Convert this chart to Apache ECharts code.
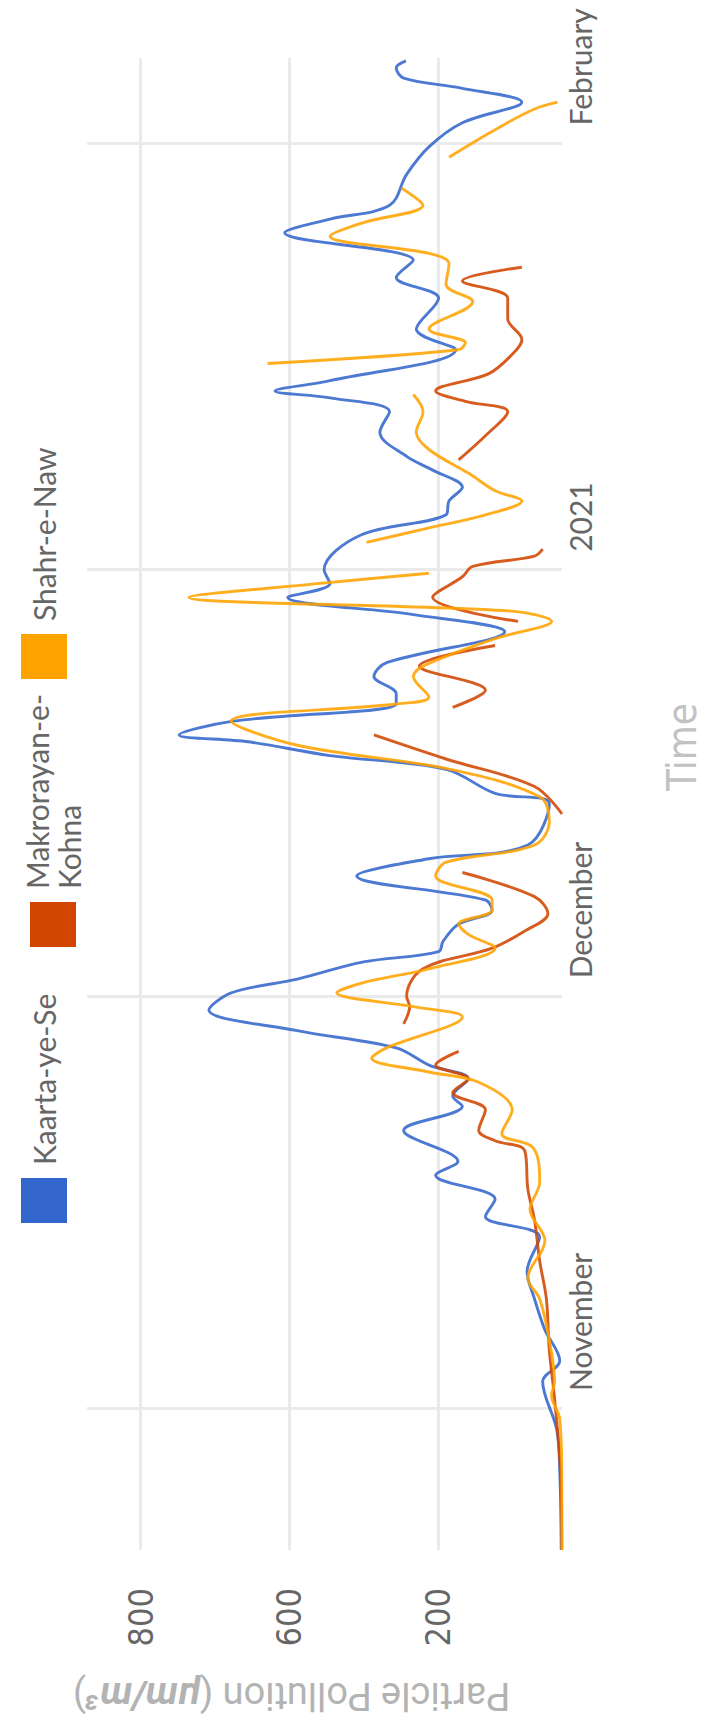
<!DOCTYPE html>
<html>
<head>
<meta charset="utf-8">
<script src="https://cdn.jsdelivr.net/npm/echarts@6/dist/echarts.min.js"></script>
<style>
  html, body { margin: 0; padding: 0; background: #ffffff; }
  #page { position: relative; width: 707px; height: 1727px; overflow: hidden; background: #ffffff; }
  #chart { position: absolute; left: 0; top: 0; width: 1727px; height: 707px;
           transform-origin: 0 0; transform: translate(0px, 1727px) rotate(-90deg); }
</style>
</head>
<body>
<div id="page"><div id="chart"></div></div>
<script>
// ---------- data ----------
const seriesNames = ['Kaarta-ye-Se', 'Makrorayan-e-Kohna', 'Shahr-e-Naw'];

const kaartaDates = ['2020-10-21 18:00','2020-10-27 12:00','2020-10-30 12:00','2020-11-03 00:00','2020-11-04 12:00','2020-11-06 18:00','2020-11-09 00:00','2020-11-11 00:00','2020-11-13 12:00','2020-11-15 00:00','2020-11-16 06:00','2020-11-18 00:00','2020-11-19 00:00','2020-11-21 06:00','2020-11-23 00:00','2020-11-23 18:00','2020-11-25 00:00','2020-11-26 00:00','2020-11-27 06:00','2020-11-28 12:00','2020-11-30 00:00','2020-12-01 06:00','2020-12-02 06:00','2020-12-03 12:00','2020-12-04 06:00','2020-12-05 00:00','2020-12-06 06:00','2020-12-07 06:00','2020-12-08 00:00','2020-12-09 18:00','2020-12-11 00:00','2020-12-12 00:00','2020-12-15 00:00','2020-12-15 18:00','2020-12-17 12:00','2020-12-18 12:00','2020-12-19 12:00','2020-12-20 00:00','2020-12-21 00:00','2020-12-22 06:00','2020-12-23 00:00','2020-12-24 06:00','2020-12-25 06:00','2020-12-27 12:00','2020-12-28 18:00','2020-12-30 00:00','2020-12-31 00:00','2021-01-01 00:00','2021-01-03 12:00','2021-01-05 00:00','2021-01-06 00:00','2021-01-07 00:00','2021-01-08 06:00','2021-01-09 06:00','2021-01-11 00:00','2021-01-12 12:00','2021-01-13 12:00','2021-01-14 00:00','2021-01-14 18:00','2021-01-17 00:00','2021-01-18 12:00','2021-01-20 18:00','2021-01-22 06:00','2021-01-23 12:00','2021-01-25 12:00','2021-01-26 12:00','2021-01-27 12:00','2021-01-29 18:00','2021-01-31 18:00','2021-02-02 12:00','2021-02-04 00:00','2021-02-05 00:00','2021-02-05 18:00','2021-02-06 12:00','2021-02-07 00:00'];
const kaartaValues = [234,236,240,259,236,256,270,280,263,336,323,403,373,446,367,380,359,412,456,589,708,678,589,500,399,393,372,327,336,509,412,279,250,323,389,545,655,748,675,456,456,486,469,310,433,602,545,553,505,389,385,367,407,442,478,465,545,619,545,376,429,399,456,433,606,545,465,442,412,367,287,367,446,456,443];

const makroDates = ['2020-10-21 18:00','2020-10-27 12:00','2020-11-01 18:00','2020-11-05 06:00','2020-11-09 00:00','2020-11-11 18:00','2020-11-14 18:00','2020-11-17 00:00','2020-11-19 18:00','2020-11-20 12:00','2020-11-21 06:00','2020-11-22 18:00','2020-11-24 00:00','2020-11-25 00:00','2020-11-26 00:00','2020-11-27 00:00','2020-11-28 00:00','2020-11-29 00:00','2020-11-30 06:00','2020-12-01 00:00','2020-12-03 00:00','2020-12-04 12:00','2020-12-05 18:00','2020-12-07 00:00','2020-12-08 06:00','2020-12-10 00:00','2020-12-12 00:00','2020-12-14 06:00','2020-12-16 06:00','2020-12-18 06:00','2020-12-20 00:00','2020-12-21 00:00','2020-12-22 00:00','2020-12-23 06:00','2020-12-25 00:00','2020-12-26 12:00','2020-12-27 12:00','2020-12-28 06:00','2020-12-30 00:00','2020-12-31 12:00','2021-01-01 06:00','2021-01-02 00:00','2021-01-02 12:00','2021-01-05 00:00','2021-01-09 00:00','2021-01-10 18:00','2021-01-12 12:00','2021-01-13 06:00','2021-01-14 00:00','2021-01-15 06:00','2021-01-16 12:00','2021-01-17 18:00','2021-01-19 06:00','2021-01-20 18:00','2021-01-22 00:00','2021-01-23 00:00'];
const makroValues = [233,235,243,250,254,263,270,279,283,323,345,336,380,359,403,372,null,446,438,442,420,327,283,252,270,367,null,233,270,389,486,null,380,336,425,323,null,292,407,367,353,270,259,null,372,336,306,363,403,332,303,287,306,306,367,287];

const shahrDates = ['2020-10-21 18:00','2020-10-26 06:00','2020-10-31 06:00','2020-11-02 00:00','2020-11-03 00:00','2020-11-06 00:00','2020-11-09 00:00','2020-11-10 12:00','2020-11-13 06:00','2020-11-15 12:00','2020-11-17 12:00','2020-11-20 00:00','2020-11-21 00:00','2020-11-22 18:00','2020-11-24 18:00','2020-11-25 12:00','2020-11-26 12:00','2020-11-27 06:00','2020-11-29 12:00','2020-11-30 06:00','2020-12-01 06:00','2020-12-02 00:00','2020-12-03 00:00','2020-12-04 12:00','2020-12-05 12:00','2020-12-06 06:00','2020-12-07 06:00','2020-12-08 00:00','2020-12-09 18:00','2020-12-10 18:00','2020-12-12 00:00','2020-12-13 18:00','2020-12-15 12:00','2020-12-17 12:00','2020-12-19 06:00','2020-12-21 00:00','2020-12-22 06:00','2020-12-22 18:00','2020-12-24 06:00','2020-12-25 00:00','2020-12-27 00:00','2020-12-28 06:00','2020-12-29 00:00','2020-12-30 00:00','2020-12-31 00:00','2020-12-31 18:00','2021-01-02 06:00','2021-01-03 00:00','2021-01-04 00:00','2021-01-05 00:00','2021-01-06 00:00','2021-01-06 18:00','2021-01-08 00:00','2021-01-09 18:00','2021-01-11 00:00','2021-01-12 12:00','2021-01-13 18:00','2021-01-15 00:00','2021-01-16 00:00','2021-01-17 00:00','2021-01-17 12:00','2021-01-18 12:00','2021-01-20 12:00','2021-01-21 18:00','2021-01-23 06:00','2021-01-24 00:00','2021-01-25 06:00','2021-01-26 06:00','2021-01-27 12:00','2021-01-28 18:00','2021-01-30 00:00','2021-01-31 00:00','2021-02-02 00:00','2021-02-03 12:00','2021-02-04 00:00'];
const shahrValues = [233,233,236,247,243,250,263,279,256,276,263,272,314,300,345,412,489,469,367,433,536,500,412,323,359,372,327,327,403,389,270,250,263,383,589,678,456,412,433,420,323,247,300,735,562,412,null,496,416,336,287,323,358,412,429,420,433,null,629,372,363,412,353,389,385,412,545,500,420,449,null,385,323,270,239];

const timeTickDates = ['2020-11-01 00:00','2020-12-01 00:00','2021-01-01 00:00','2021-02-01 00:00'];
const timeTickLabels = ['November','December','2021','February'];
const valueTickValues = [400, 600, 800];
const valueTickLabels = ['200', '600', '800'];

const colors = ['#3366CC', '#D24500', '#FFA300'];

// ---------- build ----------
function ts(s) {
  const m = s.match(/^(\d{4})-(\d{2})-(\d{2})(?: (\d{2}):(\d{2}))?$/);
  return new Date(+m[1], +m[2] - 1, +m[3], m[4] ? +m[4] : 0, m[5] ? +m[5] : 0).getTime();
}
const pair = (d, v) => d.map((x, i) => [ts(x), v[i] === null ? '-' : v[i]]);
const timeTicks = timeTickDates.map(ts);

const chart = echarts.init(document.getElementById('chart'), null, { renderer: 'svg', width: 1727, height: 707 });

const legendText = { fontFamily: 'Lato', fontSize: 30, color: '#666666', padding: [0, 0, 0, 8], lineHeight: 32 };
const legendBase = { top: 21, itemWidth: 45, itemHeight: 46, icon: 'rect', padding: 0, textStyle: legendText, selectedMode: false };

function lineSeries(name, data, color) {
  return {
    name: name, type: 'line', data: data, smooth: 0.35, showSymbol: false, symbol: 'none',
    connectNulls: false, color: color,
    lineStyle: { width: 2.9, color: color, opacity: 0.88 }
  };
}

chart.setOption({
  backgroundColor: '#ffffff',
  animation: false,
  legend: [
    Object.assign({}, legendBase, { left: 504, data: [seriesNames[0]] }),
    Object.assign({}, legendBase, { left: 780, data: [seriesNames[1]],
      formatter: () => 'Makrorayan-e-\nKohna' }),
    Object.assign({}, legendBase, { left: 1048, data: [seriesNames[2]] })
  ],
  grid: { left: 177, right: 58, top: 87, bottom: 139, containLabel: false },
  xAxis: {
    type: 'value',
    min: ts('2020-10-21 18:00'),
    max: ts('2021-02-07 05:00'),
    name: 'Time',
    nameLocation: 'middle',
    nameGap: 100,
    nameTextStyle: { fontFamily: 'Liberation Sans Narrow, DejaVu Sans Condensed, sans-serif', fontSize: 40, color: '#c2c2c2', padding: [0, 0, 0, 114] },
    axisLine: { show: false },
    axisTick: { show: false, customValues: timeTicks },
    axisLabel: {
      customValues: timeTicks,
      formatter: v => { const i = timeTicks.indexOf(v); return i >= 0 ? timeTickLabels[i] : ''; },
      align: 'left', padding: [0, 0, 0, 18], margin: 3,
      fontFamily: 'Lato', fontSize: 30, color: '#666666'
    },
    splitLine: { show: true, lineStyle: { color: '#eaeaea', width: 3 } }
  },
  yAxis: {
    type: 'value',
    min: 233,
    max: 872,
    name: '{a|Particle Pollution (}{b|\u03bcm/m\u00b3}{a|)}',
    nameLocation: 'middle',
    nameRotate: 90,
    nameGap: 127,
    nameTextStyle: {
      padding: [0, 0, 0, 66],
      rich: {
        a: { fontFamily: 'Roboto', fontSize: 38, color: '#b3b3b3' },
        b: { fontFamily: 'Roboto', fontSize: 38, color: '#b3b3b3', fontWeight: 'bold', fontStyle: 'italic' }
      }
    },
    axisLine: { show: false },
    axisTick: { show: false, customValues: valueTickValues },
    axisLabel: {
      customValues: valueTickValues,
      formatter: v => { const i = valueTickValues.indexOf(v); return i >= 0 ? valueTickLabels[i] : ''; },
      margin: 38, padding: [18, 0, 0, 0],
      fontFamily: 'Liberation Sans Narrow, DejaVu Sans Condensed, sans-serif', fontSize: 34, color: '#666666'
    },
    splitLine: { show: true, lineStyle: { color: '#eaeaea', width: 3 } }
  },
  series: [
    lineSeries(seriesNames[0], pair(kaartaDates, kaartaValues), colors[0]),
    lineSeries(seriesNames[1], pair(makroDates, makroValues), colors[1]),
    lineSeries(seriesNames[2], pair(shahrDates, shahrValues), colors[2])
  ]
});
</script>
</body>
</html>
